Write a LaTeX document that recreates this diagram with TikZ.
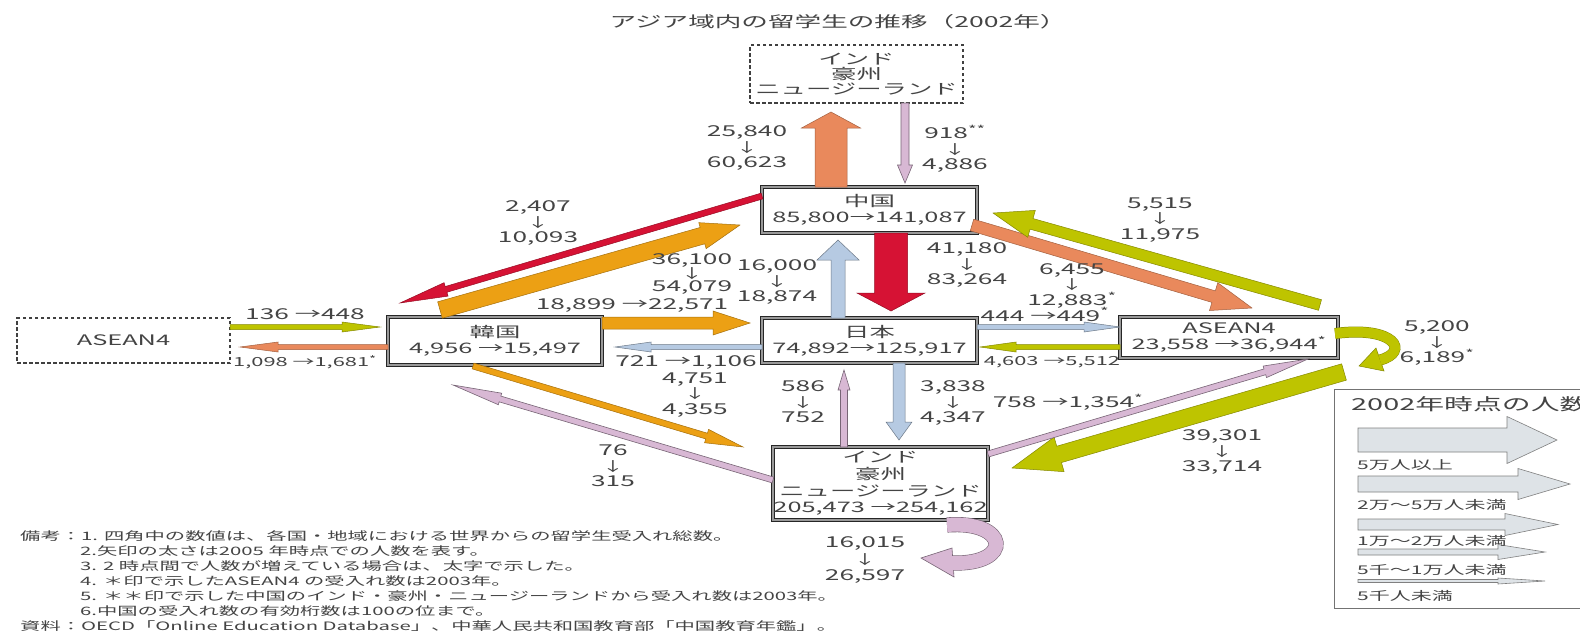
\documentclass[tikz,border=0pt]{standalone}
\usepackage{fontspec}
\setmainfont{Noto Sans CJK JP}[FakeStretch=1.75]
\usetikzlibrary{calc}

\definecolor{corange}{RGB}{236,160,20}
\definecolor{csalmon}{RGB}{233,137,92}
\definecolor{cred}{RGB}{214,18,52}
\definecolor{cblue}{RGB}{182,202,226}
\definecolor{cyg}{RGB}{190,196,0}
\definecolor{cpink}{RGB}{216,184,212}
\definecolor{clegend}{RGB}{222,227,231}
\definecolor{ctext}{RGB}{68,68,68}

\newcommand\fn{\fontsize{15}{15.5}\selectfont}
\newcommand\fj{\fontsize{14.5}{16}\selectfont}
\newcommand\fsm{\fontsize{12.5}{13}\selectfont}
\newcommand\fnote{\fontsize{11.6}{14}\selectfont}
\newcommand\flg{\fontsize{12}{13}\selectfont}
\newcommand\dn{{\fontsize{13}{11}\selectfont ↓}}
\newcommand\st{\textsuperscript{*}}

% fat arrow: style, from, to, shaft half width, head half width, head length
\newcommand{\farrow}[6]{%
  \path #2; \pgfgetlastxy{\fax}{\fay}%
  \path #3; \pgfgetlastxy{\fbx}{\fby}%
  \pgfmathsetmacro{\fang}{atan2(\fby-\fay,\fbx-\fax)}%
  \pgfmathsetmacro{\flen}{veclen(\fbx-\fax,\fby-\fay)}%
  \begin{scope}[shift={(\fax,\fay)}, rotate=\fang, x=1pt, y=1pt]
    \filldraw[#1] (0,-#4) -- ({\flen-#6},-#4) -- ({\flen-#6},-#5) -- (\flen,0)
      -- ({\flen-#6},#5) -- ({\flen-#6},#4) -- (0,#4) -- cycle;
  \end{scope}}

\tikzset{
  lbl/.style={font=\fn, text=ctext, align=center, inner sep=0pt, outer sep=0pt},
  slbl/.style={font=\fsm, text=ctext, align=center, inner sep=0pt, outer sep=0pt},
  notetxt/.style={font=\fnote, text=ctext, anchor=west, inner sep=0pt},
  lgtxt/.style={font=\flg, text=ctext, anchor=west, inner sep=0pt},
  box/.style={draw=black!85, double=black!40, double distance=2.2pt, line width=0.9pt,
    fill=white, inner sep=0pt, outer sep=0pt, align=center, text=ctext, font=\fj},
  dbox/.style={draw=black!75, dash pattern=on 3.5pt off 2.5pt, line width=1.4pt,
    inner sep=0pt, outer sep=0pt, align=center, text=ctext, font=\fj},
  aorange/.style={fill=corange, draw=corange!70!black, line width=0.5pt},
  asalmon/.style={fill=csalmon, draw=csalmon!70!black, line width=0.5pt},
  ared/.style={fill=cred, draw=cred!70!black, line width=0.5pt},
  ablue/.style={fill=cblue, draw=cblue!60!black, line width=0.5pt},
  ayg/.style={fill=cyg, draw=cyg!70!black, line width=0.5pt},
  apink/.style={fill=cpink, draw=cpink!55!black, line width=0.6pt},
  alegend/.style={fill=clegend, draw=black!50, line width=0.6pt},
}

\begin{document}
\begin{tikzpicture}[x=1pt,y=-1pt]
\path[use as bounding box] (0,0) rectangle (1580,638);
\clip (0,0) rectangle (1580,638);
\fill[white] (0,0) rectangle (1580,638);

% title
\node[font=\fontsize{15.2}{15}\selectfont, text=ctext, inner sep=0pt] (title) at (838,22) {アジア域内の留学生の推移（2002年）};

% boxes
\node[dbox, minimum width=213pt, minimum height=58pt, font=\fontsize{14.5}{15}\selectfont] (top) at (856.5,74) {インド\\豪州\\ニュージーランド};
\node[box, minimum width=215pt, minimum height=46pt] (china) at (869.5,210) {中国\\85,800→141,087};
\node[box, minimum width=215pt, minimum height=45pt] (japan) at (869.5,340.5) {日本\\74,892→125,917};
\node[box, minimum width=214pt, minimum height=48pt] (korea) at (495,341) {韓国\\4,956 →15,497};
\node[dbox, minimum width=213pt, minimum height=45pt] (aseanL) at (123.5,340.5) {ASEAN4};
\node[box, minimum width=218pt, minimum height=41pt] (aseanR) at (1229,337.5) {ASEAN4\\23,558 →36,944\st};
\node[box, minimum width=215pt, minimum height=73pt, font=\fontsize{14.5}{16.7}\selectfont] (india) at (880.5,483.5) {インド\\豪州\\ニュージーランド\\205,473 →254,162};

% arrows
\farrow{asalmon}{($(china.north)+(-38.5,0)$)}{($(top.south)+(-25.5,9)$)}{16}{29.5}{16}
\farrow{apink}{($(top.south)+(48.5,0)$)}{($(china.north)+(35.5,-4)$)}{4}{7.5}{18}
\farrow{ared}{($(china.south)+(21.5,0)$)}{($(japan.north)+(21.5,-7)$)}{16.5}{34}{18}
\farrow{ablue}{($(japan.north)+(-31.5,0)$)}{($(china.south)+(-31.5,7)$)}{7}{21}{20}
\farrow{ared}{($(china.west)+(0,-14)$)}{($(korea.north)+(-95,-14)$)}{3}{7}{48}
\farrow{aorange}{($(korea.north)+(-55,-7)$)}{($(china.west)+(-22,15)$)}{8.5}{13.5}{39}
\farrow{aorange}{($(korea.east)+(0,-18)$)}{($(japan.west)+(-12,-17.5)$)}{6}{12}{37}
\farrow{ablue}{($(japan.west)+(0,6.5)$)}{($(korea.east)+(13,6)$)}{2.5}{5}{36}
\farrow{ablue}{($(japan.east)+(0,-13.5)$)}{($(aseanR.west)+(0,-10.5)$)}{2.5}{5}{36}
\farrow{ayg}{($(aseanR.west)+(0,9.5)$)}{($(japan.east)+(3,6.5)$)}{2.5}{5}{36}
\farrow{ayg}{($(aseanL.east)+(0,-13.5)$)}{($(korea.west)+(-8,-14)$)}{2.5}{5}{38}
\farrow{asalmon}{($(korea.west)+(0,6)$)}{($(aseanL.east)+(10,6.5)$)}{2.5}{5}{38}
\farrow{asalmon}{($(china.east)+(-5,15)$)}{($(aseanR.north)+(23,-9)$)}{6}{14.5}{40}
\farrow{ayg}{($(aseanR.north)+(91,-12)$)}{($(china.east)+(16,3)$)}{5.5}{14}{40}
\farrow{ayg}{($(aseanR.south)+(115,14)$)}{($(india.east)+(24,-15.5)$)}{8.5}{18}{49}
\farrow{apink}{($(india.east)+(0,-29.5)$)}{($(aseanR.south)+(79,1)$)}{3}{6}{45}
\farrow{ablue}{($(japan.south)+(29.5,0)$)}{($(india.north)+(18.5,-7)$)}{6}{13}{18}
\farrow{apink}{($(india.north)+(-36.5,0)$)}{($(japan.south)+(-25.5,7)$)}{3.5}{6}{20}
\farrow{aorange}{($(korea.south)+(-22,1)$)}{($(india.west)+(-30,-36.5)$)}{3}{7}{38}
\farrow{apink}{($(india.west)+(0,-3.5)$)}{($(korea.south)+(-42,20)$)}{3}{6}{49}

% ASEAN4 self loop
\coordinate (yl1) at ($(aseanR.east)+(-3,-4)$);
\coordinate (yl2) at ($(aseanR.east)+(42,22.5)$);
\draw[cyg!70!black, line width=11pt] (yl1) .. controls +(60,-8) and +(30,-8) .. (yl2);
\filldraw[ayg] ($(yl2)+(-4,-12)$) -- ($(yl2)+(-21,6)$) -- ($(yl2)+(4,11)$) -- cycle;
\draw[cyg, line width=10pt] (yl1) .. controls +(60,-8) and +(30,-8) .. (yl2);

% India self loop
\coordinate (pl1) at ($(india.south)+(66.5,5)$);
\coordinate (pl2) at ($(india.south)+(71.5,43)$);
\draw[cpink!55!black, line width=15.2pt] (pl1) .. controls +(62,-5) and +(62,2) .. (pl2);
\filldraw[apink] ($(pl2)+(0,-15)$) -- ($(pl2)+(-31,-5)$) -- ($(pl2)+(2,14)$) -- cycle;
\draw[cpink, line width=14pt] (pl1) .. controls +(62,-5) and +(62,2) .. (pl2);

% labels
\node[lbl] (l1) at (747,148) {25,840\\\dn\\60,623};
\node[lbl] (l2) at (955,149) {918\textsuperscript{**}\\\dn\\4,886};
\node[lbl] (l3) at (538,223) {2,407\\\dn\\10,093};
\node[lbl, font=\fontsize{15}{13.8}\selectfont] (l4) at (692,274) {36,100\\\dn\\54,079};
\node[lbl] (l5) at (777,282) {16,000\\\dn\\18,874};
\node[lbl] (l6) at (632,305) {18,899 →22,571};
\node[lbl] (l7) at (967,265) {41,180\\\dn\\83,264};
\node[lbl, font=\fontsize{15}{13.3}\selectfont] (l8) at (1072,286) {6,455\\\dn\\12,883\st};
\node[lbl] (l9) at (1045,314.5) {444 →449\st};
\node[slbl] (l10) at (1052,362) {4,603 →5,512};
\node[lbl] (l11) at (1160,220) {5,515\\\dn\\11,975};
\node[lbl] (l12) at (1437,343) {5,200\\\dn\\6,189\st};
\node[lbl] (l13) at (305,314) {136 →448};
\node[slbl] (l14) at (305,362) {1,098 →1,681\st};
\node[lbl] (l15) at (686,362) {721 →1,106};
\node[lbl] (l16) at (695,395) {4,751\\\dn\\4,355};
\node[lbl] (l17) at (803,402) {586\\\dn\\752};
\node[lbl] (l18) at (953,403) {3,838\\\dn\\4,347};
\node[lbl] (l19) at (1068,402) {758 →1,354\st};
\node[lbl] (l20) at (1222,452) {39,301\\\dn\\33,714};
\node[lbl] (l21) at (613,466) {76\\\dn\\315};
\node[lbl, font=\fontsize{15}{16.5}\selectfont] (l22) at (865,560) {16,015\\\dn\\26,597};

% notes
\node[notetxt] (n1) at (20,536) {備考：1. 四角中の数値は、各国・地域における世界からの留学生受入れ総数。};
\node[notetxt] (n2) at (80,551) {2.矢印の太さは2005 年時点での人数を表す。};
\node[notetxt] (n3) at (80,566) {3. 2 時点間で人数が増えている場合は、太字で示した。};
\node[notetxt] (n4) at (80,581) {4. ＊印で示したASEAN4 の受入れ数は2003年。};
\node[notetxt] (n5) at (80,596) {5. ＊＊印で示した中国のインド・豪州・ニュージーランドから受入れ数は2003年。};
\node[notetxt] (n6) at (80,611) {6.中国の受入れ数の有効桁数は100の位まで。};
\node[notetxt] (n7) at (20,626) {資料：OECD「Online Education Database」、中華人民共和国教育部「中国教育年鑑」。};

% legend
\draw[black!55, line width=0.8pt] (1334,389) rectangle (1640,608);
\node[font=\fontsize{16.5}{16}\selectfont, text=ctext, anchor=west, inner sep=0pt] (lgt) at (1351,404) {2002年時点の人数};
\farrow{alegend}{(1358,440)}{(1557,440)}{12}{23.5}{50}
\farrow{alegend}{(1358,484)}{(1570,484)}{8}{15.5}{52}
\farrow{alegend}{(1358,524.5)}{(1558,524.5)}{5.5}{11}{53}
\farrow{alegend}{(1358,552)}{(1545,552)}{3}{7.5}{47}
\farrow{alegend}{(1358,581)}{(1545,581)}{1.5}{3}{47}
\node[lgtxt] (lg1) at (1357,465) {5万人以上};
\node[lgtxt] (lg2) at (1357,505) {2万～5万人未満};
\node[lgtxt] (lg3) at (1357,541) {1万～2万人未満};
\node[lgtxt] (lg4) at (1357,570) {5千～1万人未満};
\node[lgtxt] (lg5) at (1357,596) {5千人未満};
\end{tikzpicture}
\end{document}
